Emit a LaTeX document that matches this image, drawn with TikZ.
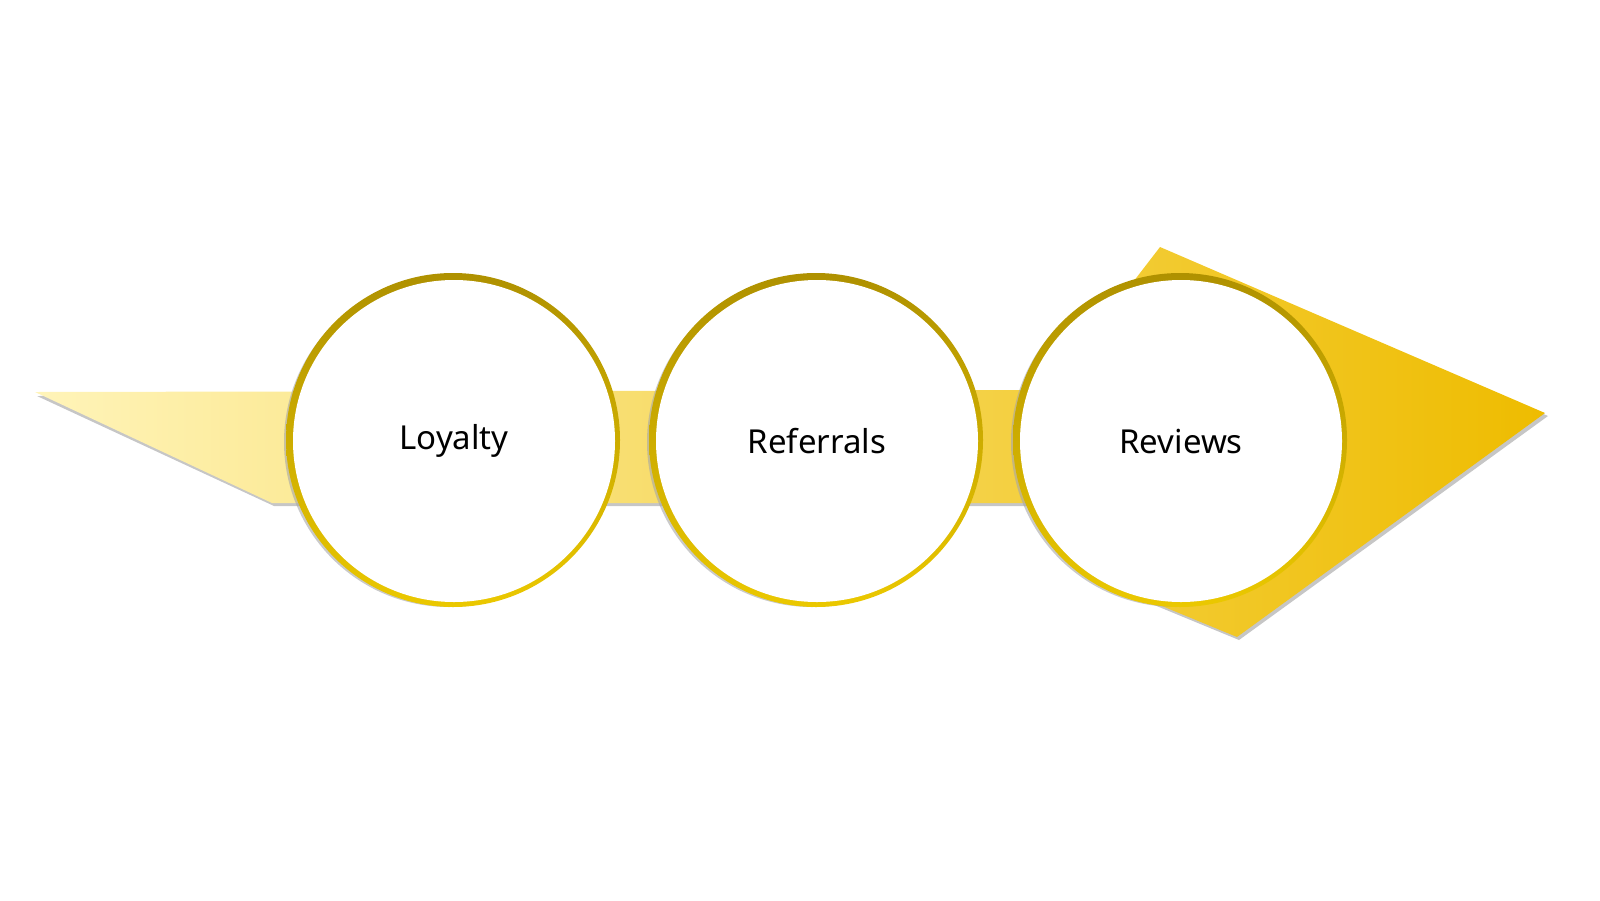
\documentclass[tikz,border=0pt]{standalone}
\usepackage{fontspec}
\setmainfont{Noto Sans}
\definecolor{lightY}{RGB}{255,244,185}
\definecolor{darkY}{RGB}{238,188,0}
\definecolor{ringTop}{RGB}{175,145,0}
\definecolor{ringBot}{RGB}{235,200,0}
\begin{document}
\begin{tikzpicture}[x=0.5pt,y=-0.5pt,
  ring/.style={circle,minimum size=161pt,inner sep=0pt,fill=white,font=\fontsize{16.5}{19}\selectfont}]
\useasboundingbox (0,0) rectangle (1600,900);
\begin{scope}
\clip (0,0) rectangle (1600,900);
\fill[gray!45] (37,396) -- (1050,393) -- (1162,250) -- (1548,416) -- (1239,640) -- (1130,595) -- (1050,506) -- (274,506) -- cycle;
\shade[left color=lightY,right color=darkY] (35,392) -- (1050,390) -- (1160,247) -- (1545,413) -- (1237,637) -- (1128,592) -- (1050,503) -- (272,503) -- cycle;
\foreach \n/\x/\t in {a/453/Loyalty,b/816/Referrals,c/1180/Reviews}{
  \fill[black!35,opacity=0.6] (\x-4,442) circle[radius=165];
  \shade[top color=ringTop,bottom color=ringBot] (\x,440) circle[radius=167];
  \node[ring] (\n) at (\x+1,441) {\t};
}
\end{scope}
\end{tikzpicture}
\end{document}
